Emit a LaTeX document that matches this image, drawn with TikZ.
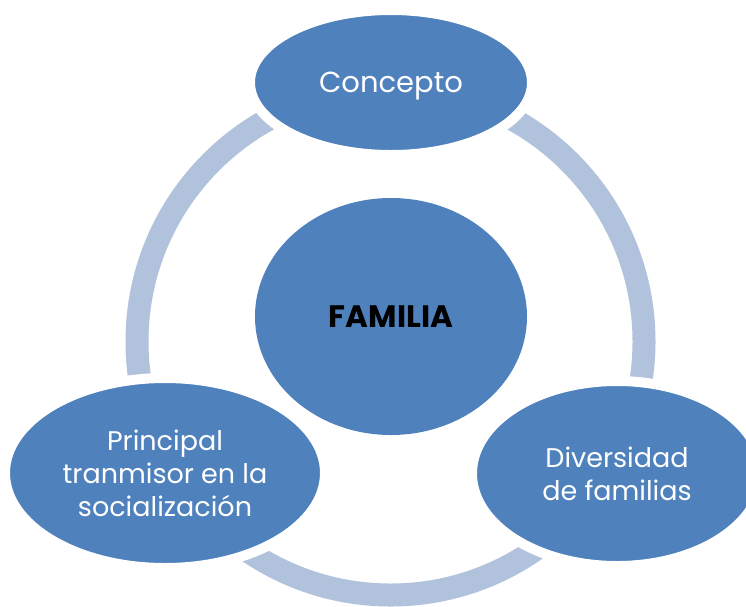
\documentclass[tikz,border=0pt]{standalone}
\usepackage{fontspec}
\setmainfont{Poppins}
\usetikzlibrary{shapes.geometric}

\definecolor{famblue}{RGB}{79,129,189}
\definecolor{famring}{RGB}{176,194,220}

\tikzset{
  bubble/.style={ellipse, fill=famblue, draw=white, line width=10pt, inner sep=0pt,
    text=white, align=center, font=\fontsize{27}{33}\selectfont},
  core/.style={ellipse, fill=famblue, inner sep=0pt, font=\fontsize{31}{36}\selectfont\bfseries},
}

\begin{document}
\begin{tikzpicture}[x=1pt,y=-1pt]
\useasboundingbox (0,0) rectangle (746,606);

\draw[famring,line width=23pt] (390.5,341.5) circle [x radius=253.5, y radius=253.5]; %ring

\node[core,minimum width=272pt,minimum height=237pt] (familia) at (391,316.5) {FAMILIA};
\node[bubble,minimum width=282pt,minimum height=145pt,text depth=0pt] (concepto) at (391,82.5) {\fontsize{29}{33}\selectfont Concepto};
\node[bubble,minimum width=320pt,minimum height=190pt] (principal) at (165,473) {Principal\\tranmisor en la\\socialización};
\node[bubble,minimum width=290pt,minimum height=185pt] (diversidad) at (617,473.5) {Diversidad\\de familias};

\end{tikzpicture}
\end{document}
